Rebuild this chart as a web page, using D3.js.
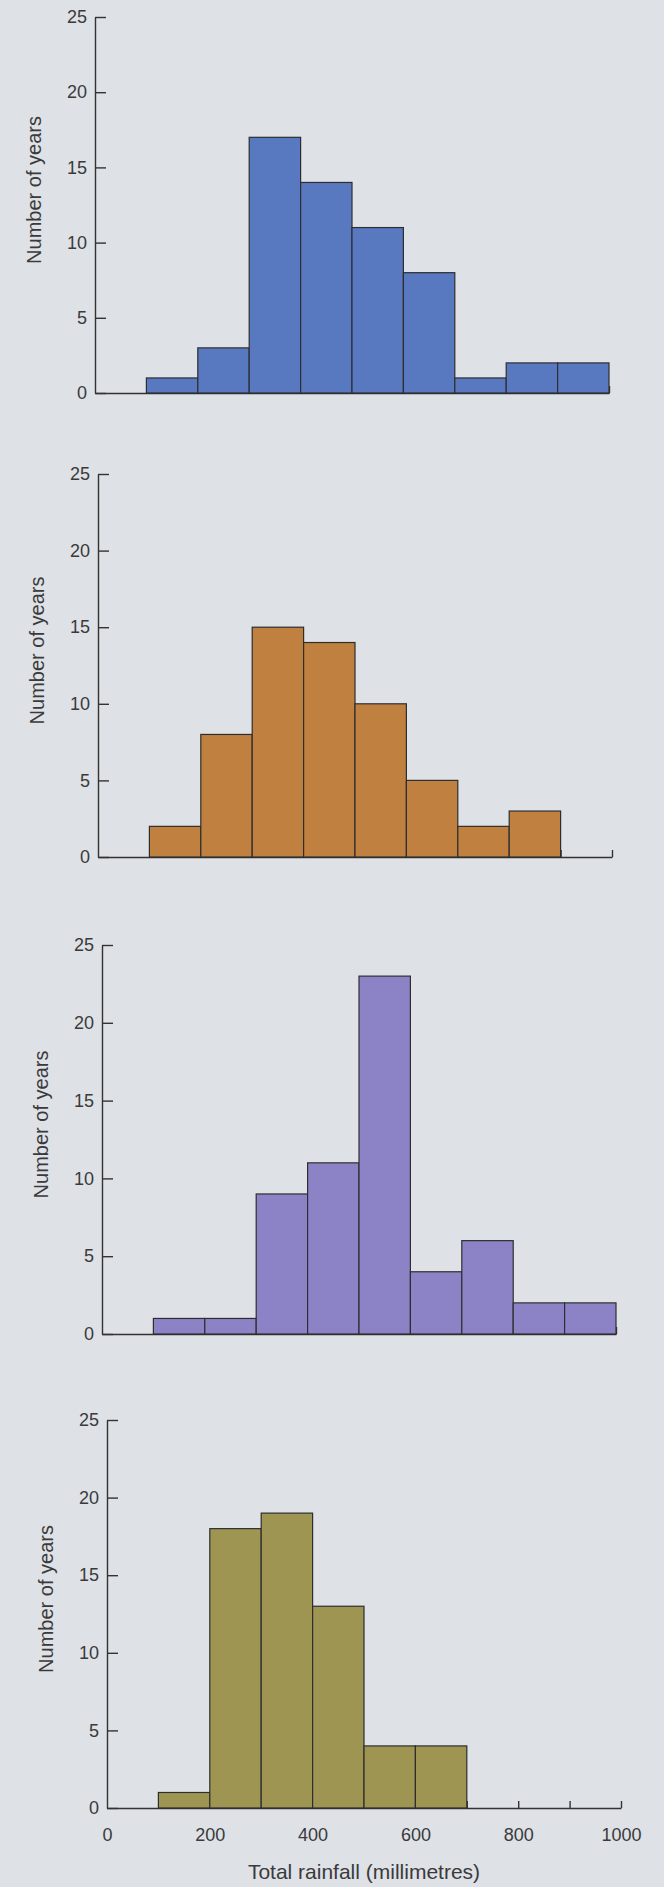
<!DOCTYPE html>
<html>
<head>
<meta charset="utf-8">
<script src="https://cdn.jsdelivr.net/npm/d3@7"></script>
<style>
  html, body { margin: 0; padding: 0; background: #dee1e5; }
  svg { display: block; }
  text { font-family: "Liberation Sans", Arial, sans-serif; fill: #3a3a3c; }
</style>
</head>
<body>
<div id="chart"></div>
<script>
// rainfall bins start at 100 mm, each 100 mm wide
const binStarts = [100, 200, 300, 400, 500, 600, 700, 800, 900];
const binWidth = 100;

// number of years per bin, one list per panel (top to bottom)
const yearsA = [1, 3, 17, 14, 11, 8, 1, 2, 2];
const yearsB = [2, 8, 15, 14, 10, 5, 2, 3];
const yearsC = [1, 1, 9, 11, 23, 4, 6, 2, 2];
const yearsD = [1, 18, 19, 13, 4, 4];

const yTicks = [0, 5, 10, 15, 20, 25];
const xMinorTicks = [100, 200, 300, 400, 500, 600, 700, 800, 900, 1000];
const xTickLabels = [0, 200, 400, 600, 800, 1000];

const yLabel = 'Number of years';
const xLabel = 'Total rainfall (millimetres)';

// panel placement (from the photo) and fills
const panels = [
  { data: yearsA, left: 95,  top: 17,   bottom: 393,  fill: '#5878c0' },
  { data: yearsB, left: 98,  top: 474,  bottom: 857,  fill: '#bf8040' },
  { data: yearsC, left: 102, top: 945,  bottom: 1334, fill: '#8c83c6' },
  { data: yearsD, left: 107, top: 1420, bottom: 1808, fill: '#9f9553' }
];

const W = 664, H = 1887;
const plotW = 514;

const svg = d3.select('#chart').append('svg')
  .attr('width', W).attr('height', H);

panels.forEach((p, i) => {
  const x = d3.scaleLinear().domain([0, 1000]).range([0, plotW]);
  const y = d3.scaleLinear().domain([0, 25]).range([p.bottom - p.top, 0]);
  const g = svg.append('g').attr('transform', `translate(${p.left},${p.top})`);
  const h = p.bottom - p.top;

  // x axis line with small upward ticks every 100 mm
  const xAxis = g.append('g').attr('transform', `translate(0,${h})`)
    .call(d3.axisBottom(x).tickValues(xMinorTicks).tickSize(-7).tickSizeOuter(0).tickFormat(''));
  xAxis.selectAll('path, line').attr('stroke', '#333').attr('stroke-width', 1.4);

  // bars
  g.selectAll('rect.bar').data(p.data).join('rect')
    .attr('class', 'bar')
    .attr('x', (d, j) => x(binStarts[j]))
    .attr('width', (d, j) => x(binStarts[j] + binWidth) - x(binStarts[j]))
    .attr('y', d => y(d))
    .attr('height', d => y(0) - y(d))
    .attr('fill', p.fill)
    .attr('stroke', '#2e2e30')
    .attr('stroke-width', 1.2);

  // y axis, ticks pointing inward
  const yAxis = g.append('g')
    .call(d3.axisLeft(y).tickValues(yTicks).tickSize(-11).tickSizeOuter(0).tickPadding(8));
  yAxis.selectAll('path, line').attr('stroke', '#333').attr('stroke-width', 1.4);
  yAxis.selectAll('text').style('font-size', '18px').attr('fill', '#3a3a3c');

  g.append('text')
    .attr('transform', `translate(-61,${h / 2 - 15}) rotate(-90)`)
    .attr('text-anchor', 'middle')
    .attr('dy', '0.35em')
    .style('font-size', '20px')
    .text(yLabel);

  if (i === panels.length - 1) {
    const labels = g.append('g').attr('transform', `translate(0,${h})`)
      .call(d3.axisBottom(x).tickValues(xTickLabels).tickSize(0).tickPadding(20).tickFormat(d3.format('d')));
    labels.select('.domain').remove();
    labels.selectAll('text').style('font-size', '18px').attr('fill', '#3a3a3c');

    g.append('text')
      .attr('x', x(500))
      .attr('y', h + 64)
      .attr('text-anchor', 'middle')
      .attr('dy', '0.35em')
      .style('font-size', '21px')
      .text(xLabel);
  }
});
</script>
</body>
</html>
